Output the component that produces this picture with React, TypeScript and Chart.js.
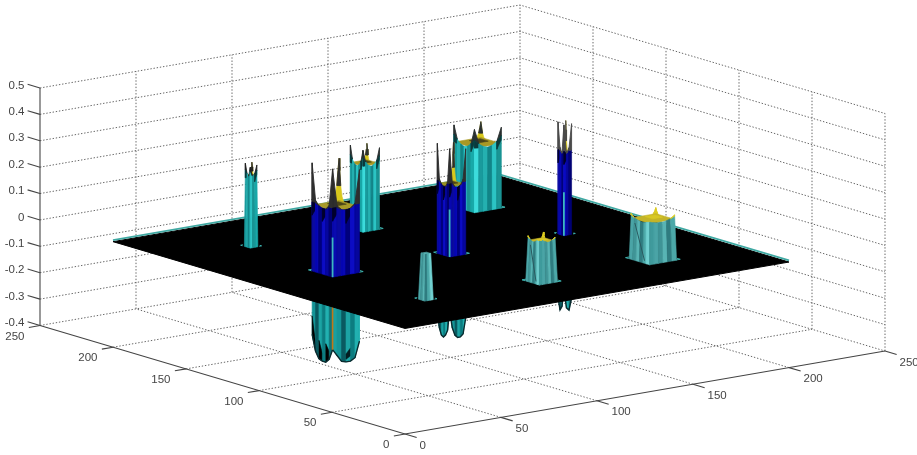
import React, { useEffect, useRef } from "react";
import { Chart } from "chart.js/auto";

const WIDTH = 917;
const HEIGHT = 455;

// Tick values and labels
const xTicks = [0, 50, 100, 150, 200, 250];
const yTicks = [0, 50, 100, 150, 200, 250];
const zTicks = [0.5, 0.4, 0.3, 0.2, 0.1, 0, -0.1, -0.2, -0.3, -0.4];
const zLabels = ["0.5", "0.4", "0.3", "0.2", "0.1", "0", "-0.1", "-0.2", "-0.3", "-0.4"];

// Flat sheet of the surface
const planeSize = 200;

// Upright peaks, painted back to front
const peakX = [158, 97, 157, 40, 158, 98, 40, 97, 39];
const peakY = [158, 155, 97, 158, 38, 97, 100, 34, 37];
const peakHalf = [7, 4.3, 2, 2, 7, 4.2, 7, 4.7, 2.2];
const peakPlateau = [0.245, 0.25, 0.31, 0.27, 0.155, 0.265, 0.25, 0.155, 0.175];
// Rim heights from the left corner round the front corner to the right corner
const peakRims = [
  [0.31, 0.258, 0.245, 0.24, 0.245, 0.258, 0.315, 0.258, 0.245, 0.24, 0.245, 0.256, 0.307],
  [0.316, 0.264, 0.25, 0.245, 0.25, 0.264, 0.31, 0.264, 0.25, 0.245, 0.25, 0.262, 0.31],
  [0.425, 0.33, 0.31, 0.42, 0.31, 0.33, 0.42],
  [0.315, 0.278, 0.27, 0.305, 0.27, 0.278, 0.31],
  [0.172, 0.16, 0.155, 0.152, 0.152, 0.156, 0.16, 0.155, 0.152, 0.152, 0.155, 0.16, 0.172],
  [0.417, 0.285, 0.268, 0.26, 0.262, 0.28, 0.41, 0.28, 0.262, 0.26, 0.265, 0.285, 0.4],
  [0.41, 0.272, 0.255, 0.25, 0.25, 0.268, 0.41, 0.268, 0.25, 0.245, 0.25, 0.265, 0.39],
  [0.172, 0.162, 0.155, 0.155, 0.16, 0.165, 0.168, 0.165, 0.16, 0.155, 0.155, 0.162, 0.17],
  [0.175, 0.175, 0.175, 0.175, 0.175, 0.175, 0.175],
];
// Height of the back corner of each peak
const peakBack = [0.305, 0.312, 0.425, 0.315, 0.178, 0.41, 0.41, 0.176, 0.175];
const peakFrontStripe = [0, 0, 0.165, 0, 0, 0.18, 0.15, 0, 0];

// Downward lobes under the sheet
const dipX = [157, 98, 40];
const dipY = [97, 97, 100];
const dipHalf = [2, 4.2, 7];
const dipRims = [
  [-0.24, -0.285, -0.27, -0.2, -0.275, -0.285, -0.24],
  [-0.22, -0.28, -0.305, -0.31, -0.3, -0.28, -0.2, -0.27, -0.3, -0.31, -0.31, -0.3, -0.24],
  [-0.24, -0.3, -0.325, -0.33, -0.33, -0.315, -0.275, -0.3, -0.325, -0.33, -0.33, -0.32, -0.26],
];

// Styles, index by peak
const blue = ["#0a0aa0", "#0707b4", "#00007c", "#0c0cc4", "#06069c", "#000074", "#0a0ab0"];
const teal = ["#1a9a9c", "#24b0b0", "#128488", "#2cc4c4", "#1a9494", "#18a8a8", "#3cdcdc"];
const grey = ["#4aa4a6", "#3f9496", "#58b4b4", "#2f7c80", "#4ca8a8", "#70d0d0", "#3f9a9c"];
const dipTeal = ["#149496", "#0a5a60", "#1ca4a4", "#0c7c80", "#22b0b0", "#107478", "#18a0a0"];
const peakPalette = [teal, teal, blue, teal, grey, blue, blue, grey, grey];
const peakTaper = [1, 1, 1, 0.85, 0.92, 1, 1, 0.85, 0.66];
const peakShade = ["#0a3a3c", "#0a3a3c", "#00002c", "#0a3a3c", "", "#00002c", "#00002c", "", ""];
const peakTip = ["#2a3030", "#2a3030", "#4a4a4a", "#222", "#dccc20", "#2e2e2e", "#2e2e2e", "#dccc20", "#58b4b4"];
const peakTop = ["#a89824", "#a89824", "#222", "#807418", "#c4b428", "#989020", "#a89a28", "#c4b428", "#58b4b4"];
const tipStart = [0.03, 0.03, 0.01, 0.02, 0.012, 0.012, 0.012, 0.012, 0.1];
const spikeLevels = [0, 0.15, 0.4, 0.75, 1];
const spikeWidths = [1, 0.6, 0.34, 0.16, 0];

type P3 = [number, number, number];

const project = ([x, y, z]: P3) => ({
  x: 405 + (x * 480) / 250 - (y * 365) / 250,
  y: 434 - (x * 83) / 250 - (y * 108.5) / 250 - ((z + 0.4) * 237.5) / 0.9,
});

function buildDatasets() {
  const out: any[] = [];
  const poly = (pts: P3[], color: string, edge = color, width = 0.6) =>
    out.push({
      data: [...pts, pts[0]].map(project),
      showLine: true,
      fill: "shape",
      backgroundColor: color,
      borderColor: edge,
      borderWidth: width,
      pointRadius: 0,
      tension: 0,
    });
  const line = (pts: P3[], color: string, width = 1, dash: number[] = []) =>
    out.push({
      data: pts.map(project),
      showLine: true,
      fill: false,
      borderColor: color,
      borderWidth: width,
      borderDash: dash,
      pointRadius: 0,
      tension: 0,
    });

  // Dotted box grid
  const gridColor = "#666666";
  const dash = [1.4, 1.8];
  const zLo = -0.4;
  const zHi = 0.5;
  for (const x of xTicks) {
    if (x > 0) line([[x, 250, zLo], [x, 250, zHi]], gridColor, 1, dash);
    if (x > 0 && x < 250) line([[x, 0, zLo], [x, 250, zLo]], gridColor, 1, dash);
  }
  for (const y of yTicks) {
    if (y < 250) line([[250, y, zLo], [250, y, zHi]], gridColor, 1, dash);
    if (y > 0 && y < 250) line([[0, y, zLo], [250, y, zLo]], gridColor, 1, dash);
  }
  for (const z of zTicks) {
    line([[0, 250, z], [250, 250, z], [250, 0, z]], gridColor, 1, dash);
  }

  // Solid axes and ticks
  const axisColor = "#444444";
  line([[0, 250, zLo], [0, 250, zHi]], axisColor, 1.1);
  line([[0, 250, zLo], [0, 0, zLo], [250, 0, zLo]], axisColor, 1.1);
  for (const z of zTicks) line([[0, 250, z], [0, 258.5, z]], axisColor, 1.1);
  for (const x of xTicks) line([[x, 0, zLo], [x, -8, zLo]], axisColor, 1.1);
  for (const y of yTicks) line([[0, y, zLo], [-5.8, y, zLo]], axisColor, 1.1);

  const facePoint = (cx: number, cy: number, s: number, t: number): [number, number] => {
    // t runs 0..1 from left corner to front corner, 1..2 from front to right
    if (t <= 1) return [cx - s, cy + s - 2 * s * t];
    return [cx - s + 2 * s * (t - 1), cy - s];
  };

  // Downward lobes
  dipX.forEach((cx, d) => {
    const cy = dipY[d];
    const s = dipHalf[d];
    const rim = dipRims[d];
    const k = rim.length - 1;
    for (let i = 0; i < k; i++) {
      const a = facePoint(cx, cy, s, (2 * i) / k);
      const b = facePoint(cx, cy, s, (2 * (i + 1)) / k);
      poly([[a[0], a[1], 0], [b[0], b[1], 0], [b[0], b[1], rim[i + 1]], [a[0], a[1], rim[i]]], dipTeal[i % dipTeal.length]);
      if (d === 2 && i < 6 && i % 2 === 0) {
        poly([[a[0], a[1], rim[i] + 0.07], [b[0], b[1], rim[i + 1] + 0.03], [b[0], b[1], rim[i + 1]], [a[0], a[1], rim[i]]], "#000000");
      }
      if (d === 2 && i > 6 && i % 3 === 0) {
        poly([[a[0], a[1], rim[i] + 0.03], [b[0], b[1], rim[i + 1] + 0.05], [b[0], b[1], rim[i + 1] + 0.02], [a[0], a[1], rim[i] + 0.01]], "#041e22");
      }
    }
    const edge: P3[] = rim.map((z, i) => {
      const a = facePoint(cx, cy, s, (2 * i) / k);
      return [a[0], a[1], z];
    });
    line(edge, "#0a2a2e", 1.4);
    const mid = facePoint(cx, cy, s, 1);
    line([[mid[0], mid[1], -0.1], [mid[0], mid[1], rim[k / 2]]], "#c07818", 1.6);
  });

  // Sheet
  const n = planeSize;
  poly([[0, n, 0], [0, 0, 0], [n, 0, 0], [n, n, 0]], "#000000", "#000000", 1);
  line([[0, n, 0.006], [n, n, 0.006], [n, 0, 0.006]], "#3fa8a2", 1.8);

  // Upright peaks
  peakX.forEach((cx, p) => {
    const cy = peakY[p];
    const s = peakHalf[p];
    const rim = peakRims[p];
    const plateau = peakPlateau[p];
    const taper = peakTaper[p];
    const palette = peakPalette[p];
    const tip = peakTip[p];
    const top = s * taper;
    const k = rim.length - 1;

    // Foot flecks at the two side corners
    const f = s + 1.1;
    const e = Math.min(2.2, s * 0.6);
    line([[cx - f + e, cy + f, 0.004], [cx - f, cy + f, 0.004], [cx - f, cy + f - e, 0.004]], "#3cb0ac", 1);
    line([[cx + f, cy - f + e, 0.004], [cx + f, cy - f, 0.004], [cx + f - e, cy - f, 0.004]], "#3cb0ac", 1);

    // Back corner rising behind the top
    const zTip = peakBack[p];
    if (zTip > plateau + 0.004) {
      const c: [number, number] = [cx + top, cy + top];
      const w = Math.max(1.6, s * 0.5);
      const dz = zTip - plateau;
      const side = (d: [number, number], from: number): P3[] =>
        spikeLevels
          .map((t, i): [number, number] => [t, spikeWidths[i]])
          .filter(([t]) => t >= from && t < 1)
          .map(([t, m]): P3 => [c[0] + d[0] * w * m, c[1] + d[1] * w * m, plateau - 0.006 + dz * t]);
      const apex: P3 = [c[0], c[1], zTip];
      poly([...side([-1, 0], 0), apex, ...side([0, -1], 0).reverse()], "#d8c81c");
      poly([...side([-1, 0], 0.4), apex, ...side([0, -1], 0.4).reverse()], tip, tip, 0.9);
    }

    // Top surface
    poly([[cx - top, cy + top, plateau], [cx - top, cy - top, plateau], [cx + top, cy - top, plateau], [cx + top, cy + top, plateau]], peakTop[p]);
    if (s > 4 && peakTop[p] !== "#222") {
      const q = top * 0.4;
      const qx = cx + top * 0.35;
      const qy = cy + top * 0.35;
      poly([[qx - q, qy + q, plateau], [qx - q, qy - q, plateau], [qx + q, qy - q, plateau], [qx + q, qy + q, plateau]], plateau > 0.2 ? "#4a4418" : "#d8c824");
    }

    // Walls
    const zDark = plateau + tipStart[p];
    for (let i = 0; i < k; i++) {
      const a = facePoint(cx, cy, s, (2 * i) / k);
      const b = facePoint(cx, cy, s, (2 * (i + 1)) / k);
      const a2 = facePoint(cx, cy, top, (2 * i) / k);
      const b2 = facePoint(cx, cy, top, (2 * (i + 1)) / k);
      const za = rim[i];
      const zb = rim[i + 1];
      const low = Math.min(za, zDark);
      const lowB = Math.min(zb, zDark);
      poly([[a[0], a[1], 0], [b[0], b[1], 0], [b2[0], b2[1], lowB], [a2[0], a2[1], low]], palette[i % palette.length]);
      if (za > zDark || zb > zDark) {
        poly([[a2[0], a2[1], low], [b2[0], b2[1], lowB], [b2[0], b2[1], zb], [a2[0], a2[1], za]], tip, tip, 0.9);
      }
      const shade = palette === blue ? i % 3 === 0 : i === 0 || i === 5 || i === 6 || i === k - 1;
      if (peakShade[p] && shade) {
        const depth = palette === blue ? 0.05 : 0.03;
        poly([[a2[0], a2[1], low - depth], [b2[0], b2[1], lowB - depth * 0.5], [b2[0], b2[1], lowB], [a2[0], a2[1], low]], peakShade[p]);
      }
    }

    // Diagonal mesh creases on the flatter peaks
    if (palette === grey && s > 4) {
      const a = facePoint(cx, cy, s, 0.75);
      const b = facePoint(cx, cy, top, 0.2);
      line([[a[0], a[1], 0.01], [b[0], b[1], 0.14]], "#2a5a60", 1);
    }

    // Front stripe
    if (peakFrontStripe[p] > 0) {
      const m = facePoint(cx, cy, s, 1);
      line([[m[0], m[1], 0], [m[0], m[1], peakFrontStripe[p]]], "#3cb8c0", 1.8);
    }
  });

  return out.reverse();
}

const labelPlugin = {
  id: "boxLabels",
  afterDraw(chart: any) {
    const { ctx, scales } = chart;
    const put = (text: string, p: { x: number; y: number }, dx: number, dy: number, align: CanvasTextAlign) => {
      ctx.textAlign = align;
      ctx.fillText(text, scales.x.getPixelForValue(p.x) + dx, scales.y.getPixelForValue(p.y) + dy);
    };
    ctx.save();
    ctx.font = "11.5px 'Liberation Sans', Arial, sans-serif";
    ctx.fillStyle = "#454545";
    ctx.textBaseline = "middle";
    zTicks.forEach((z, i) => {
      const p = project([0, 250, z]);
      ctx.textAlign = "right";
      ctx.fillText(zLabels[i], 24.5, scales.y.getPixelForValue(p.y) - 2.5);
    });
    yTicks.forEach((y) => put(String(y), project([0, y, -0.4]), -15.5, 11, "right"));
    xTicks.forEach((x) => put(String(x), project([x, 0, -0.4]), 14.5, 11.5, "left"));
    ctx.restore();
  },
};

export default function App() {
  const ref = useRef<HTMLCanvasElement | null>(null);
  useEffect(() => {
    if (!ref.current) return;
    const chart = new Chart(ref.current, {
      type: "scatter",
      data: { datasets: buildDatasets() },
      options: {
        animation: false,
        responsive: false,
        devicePixelRatio: 1,
        events: [],
        layout: { padding: 0 },
        clip: false,
        scales: {
          x: { type: "linear", min: 0, max: WIDTH, display: false },
          y: { type: "linear", min: 0, max: HEIGHT, reverse: true, display: false },
        },
        plugins: { legend: { display: false }, tooltip: { enabled: false }, filler: { propagate: false } },
      },
      plugins: [labelPlugin],
    } as any);
    return () => chart.destroy();
  }, []);
  return (
    <div style={{ position: "fixed", left: 0, top: 0, width: WIDTH, height: HEIGHT, background: "#fff", overflow: "hidden" }}>
      <canvas ref={ref} width={WIDTH} height={HEIGHT} style={{ display: "block", filter: "blur(0.55px)" }} />
    </div>
  );
}
